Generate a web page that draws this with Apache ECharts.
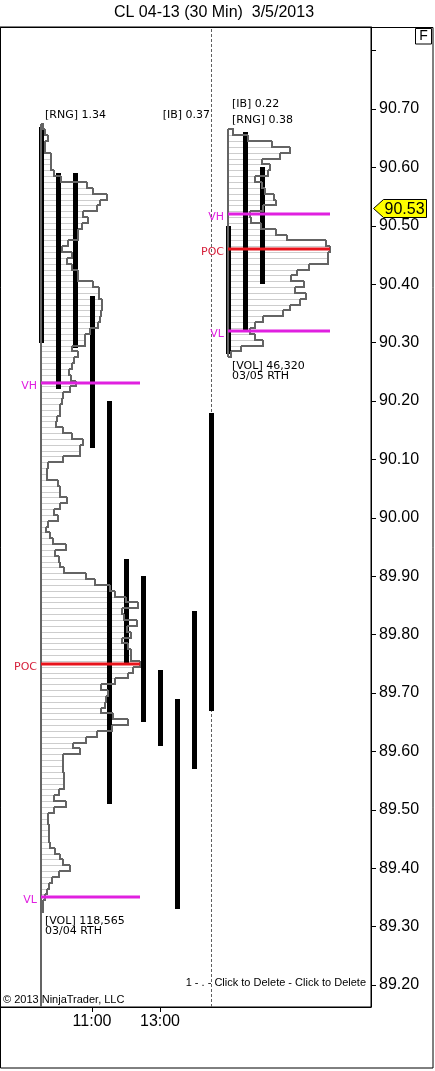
<!DOCTYPE html>
<html><head><meta charset="utf-8">
<script src="https://cdn.jsdelivr.net/npm/echarts@6/dist/echarts.min.js"></script>
<style>html,body{margin:0;padding:0;background:#fff}#c{width:435px;height:1071px}</style>
</head><body><div id="c"></div>
<script>
// ---------- data ----------
const TITLE = 'CL 04-13 (30 Min)  3/5/2013';
const BAR_SLOT = [0, 1, 2, 3, 4, 5, 6, 7, 8, 9, 10, 11, 12, 13];
const BAR_HIGH = [90.67, 90.59, 90.59, 90.38, 90.20, 89.93, 89.90, 89.74, 89.69, 89.84, 90.18, 90.50, 90.66, 90.60];
const BAR_LOW  = [90.30, 90.22, 90.29, 90.12, 89.51, 89.75, 89.65, 89.61, 89.33, 89.57, 89.67, 90.28, 90.32, 90.40];
const TICK_SLOTS = [3, 7];
const TICK_LABELS = ['11:00', '13:00'];
const Y_TICKS = [89.2, 89.3, 89.4, 89.5, 89.6, 89.7, 89.8, 89.9, 90.0, 90.1, 90.2, 90.3, 90.4, 90.5, 90.6, 90.7, 90.8];
const Y_LABELS = [89.2, 89.3, 89.4, 89.5, 89.6, 89.7, 89.8, 89.9, 90.0, 90.1, 90.2, 90.3, 90.4, 90.5, 90.6, 90.7];
const SESSION_BREAK_SLOT = 10;
const LAST_PRICE = 90.53;
const TICK = 0.01;

// profile 1 (03/04), rows from high downward, relative volume
const P1_START = 0;
const P1_HIGH = 90.67;
const P1_VOL = [
  2, 4, 7, 4, 4, 10, 10, 10,
  13, 20, 46, 52, 66, 59, 56, 42, 47, 41,
  37, 37, 27, 21, 31, 26, 31, 37, 37, 52,
  58, 58, 61, 61, 60, 59, 57, 49, 44, 44,
  31, 37, 33, 31, 28, 30, 35, 29, 22, 21,
  19, 19, 16, 15, 22, 31, 42, 39, 39, 22,
  7, 6, 6, 17, 19, 19, 26, 19, 13, 17,
  7, 5, 9, 12, 25, 14, 18, 19, 23, 45,
  54, 69, 74, 85, 97, 81, 83, 96, 86, 90,
  81, 87, 90, 90, 99, 92, 87, 74, 60, 67,
  65, 64, 60, 72, 87, 71, 56, 45, 32, 39,
  22, 22, 22, 23, 23, 23, 18, 13, 25, 13,
  7, 7, 8, 8, 8, 9, 14, 19, 22, 29,
  18, 11, 8, 6, 4, 2, 2
];
const P1_LEVELS = [90.23, 89.75, 89.35];      // VH, POC, VL
const P1_NOTES = ['[RNG] 1.34', '[IB] 0.37', '[VOL] 118,565', '03/04 RTH'];

// profile 2 (03/05)
const P2_START = 11;
const P2_HIGH = 90.66;
const P2_VOL = [
  5, 20, 44, 62, 52, 34, 42,
  40, 27, 34, 37, 46, 48, 35, 22, 23, 33,
  48, 59, 98, 102, 100, 100, 81, 69, 63, 76,
  67, 78, 72, 62, 55, 35, 27, 22, 27, 35,
  13, 3
];
const P2_LEVELS = [90.52, 90.46, 90.32];
const P2_NOTES = ['[IB] 0.22', '[RNG] 0.38', '[VOL] 46,320', '03/05 RTH'];

const LEVEL_NAMES = ['VH', 'POC', 'VL'];

// ---------- chart config ----------
const Y_MIN = 89.1623, Y_MAX = 90.8404;
const X_MIN = -41 / 17, X_MAX = 330 / 17;
const VOL_UNITS_PER_SLOT = 17;
const HALF = TICK / 2;
const GRAY_OUT = '#646464', GRAY_ROW = '#cdcdcd';
const MAGENTA = '#e020e0', RED = '#e8141c', RED_TXT = '#d61f3a';
const NOTE_FONT = '11px "DejaVu Sans"';

function buildRows(start, high, vols) {
  return vols.map((v, i) => [start, +(high - i * TICK).toFixed(2), v, i + 1 < vols.length ? vols[i + 1] : 0, i === 0 ? 1 : 0]);
}
const rows = buildRows(P1_START, P1_HIGH, P1_VOL).concat(buildRows(P2_START, P2_HIGH, P2_VOL));
const P1_LOW = +(P1_HIGH - (P1_VOL.length - 1) * TICK).toFixed(2);
const P2_LOW = +(P2_HIGH - (P2_VOL.length - 1) * TICK).toFixed(2);
const edges = [
  [P1_START, P1_HIGH + HALF, Y_MIN],
  [P2_START, P2_HIGH + HALF, P2_LOW - HALF]
];
const levels = [];
[[P1_START, P1_LEVELS, Math.max(...P1_VOL)], [P2_START, P2_LEVELS, Math.max(...P2_VOL)]].forEach(([s, lv, mx]) => {
  lv.forEach((p, k) => levels.push([s, p, mx, k]));
});
// notes: [slot, price, textIndex, dx, dy, alignRight]
const NOTES_ALL = P1_NOTES.concat(P2_NOTES);
const notes = [
  [P1_START, P1_HIGH, 0, 4, -12, 0],
  [SESSION_BREAK_SLOT, P1_HIGH, 1, -1, -12, 1],
  [P1_START, P1_LOW, 2, 4, 12, 0],
  [P1_START, P1_LOW, 3, 4, 22, 0],
  [P2_START, P2_HIGH, 4, 4, -28, 0],
  [P2_START, P2_HIGH, 5, 4, -12, 0],
  [P2_START, P2_LOW, 6, 4, 12, 0],
  [P2_START, P2_LOW, 7, 4, 22, 0]
];
const bars = BAR_SLOT.map((s, i) => [s, BAR_HIGH[i], BAR_LOW[i]]);

const chart = echarts.init(document.getElementById('c'), null, {renderer: 'canvas'});
const R = Math.round;

chart.setOption({
  animation: false,
  backgroundColor: '#fff',
  grid: {left: 0, right: 64, top: 27, bottom: 64, show: true, borderColor: '#000', borderWidth: 1, backgroundColor: 'transparent'},
  xAxis: {
    type: 'value', min: X_MIN, max: X_MAX,
    axisLine: {show: true, onZero: false, lineStyle: {color: '#000', width: 1}},
    axisTick: {show: true, customValues: TICK_SLOTS, length: 5, lineStyle: {color: '#000'}},
    axisLabel: {customValues: TICK_SLOTS, formatter: v => TICK_LABELS[TICK_SLOTS.indexOf(v)], color: '#000',
      fontFamily: 'Liberation Sans', fontSize: 16, margin: 7},
    splitLine: {show: false}
  },
  yAxis: {
    type: 'value', position: 'right', min: Y_MIN, max: Y_MAX,
    axisLine: {show: true, onZero: false, lineStyle: {color: '#000', width: 1}},
    axisTick: {show: true, customValues: Y_TICKS, length: 5, lineStyle: {color: '#000'}},
    axisLabel: {customValues: Y_LABELS, formatter: v => v.toFixed(2), color: '#000',
      fontFamily: 'Liberation Sans', fontSize: 16, margin: 8},
    splitLine: {show: false}
  },
  graphic: [
    {type: 'rect', shape: {x: 0.5, y: 27.5, width: 432.5, height: 1040.5}, style: {fill: 'none', stroke: '#000', lineWidth: 1}, z: 100},
    {type: 'rect', shape: {x: 415.5, y: 28.5, width: 16, height: 15.5}, style: {fill: '#fff', stroke: '#000', lineWidth: 1}, z: 100},
    {type: 'text', x: 423.5, y: 36.5, style: {text: 'F', font: '14px "Liberation Sans"', fill: '#000', align: 'center', verticalAlign: 'middle'}, z: 101},
    {type: 'text', x: 214, y: 13, style: {text: TITLE, font: '16px "Liberation Sans"', fill: '#000', align: 'center', verticalAlign: 'middle'}, z: 100},
    {type: 'text', x: 3, y: 1000, style: {text: '\u00a9 2013 NinjaTrader, LLC', font: '11px "Liberation Sans"', fill: '#000', verticalAlign: 'middle'}, z: 100},
    {type: 'text', x: 366, y: 983, style: {text: '1 - . - Click to Delete - Click to Delete', font: '11px "Liberation Sans"', fill: '#000', align: 'right', verticalAlign: 'middle'}, z: 100}
  ],
  series: [
    { // profile rows (+ session break line underneath the bars)
      type: 'custom', z: 1, data: rows, clip: false,
      renderItem: (params, api) => {
        const s = api.value(0), p = api.value(1), v = api.value(2);
        const a = api.coord([s, p + HALF]);
        const b = api.coord([s + v / VOL_UNITS_PER_SLOT, p - HALF]);
        return {type: 'rect', shape: {x: R(a[0]) + 0.5, y: R(a[1]) + 0.5, width: R(b[0]) - R(a[0]), height: R(b[1]) - R(a[1])},
          style: {fill: 'none', stroke: GRAY_ROW, lineWidth: 1}};
      },
      markLine: {
        z: 1, silent: true, symbol: ['none', 'none'], label: {show: false},
        lineStyle: {type: [3, 2], color: '#606060', width: 1},
        data: [{xAxis: SESSION_BREAK_SLOT}]
      }
    },
    { // bars
      type: 'custom', z: 3, data: bars, clip: false,
      renderItem: (params, api) => {
        const a = api.coord([api.value(0), api.value(1)]);
        const b = api.coord([api.value(0), api.value(2)]);
        return {type: 'rect', shape: {x: R(a[0]) - 2, y: R(a[1]), width: 5, height: R(b[1]) - R(a[1])}, style: {fill: '#000'}};
      }
    },
    { // profile outline
      type: 'custom', z: 4, data: rows, clip: false,
      renderItem: (params, api) => {
        const s = api.value(0), p = api.value(1), v = api.value(2), nv = api.value(3), first = api.value(4);
        const x0 = R(api.coord([s, p])[0]);
        const xv = R(api.coord([s + v / VOL_UNITS_PER_SLOT, p])[0]);
        const xn = R(api.coord([s + nv / VOL_UNITS_PER_SLOT, p])[0]);
        const yT = R(api.coord([s, p + HALF])[1]), yB = R(api.coord([s, p - HALF])[1]);
        const pts = first ? [[x0, yT], [xv, yT], [xv, yB], [xn, yB]] : [[xv, yT], [xv, yB], [xn, yB]];
        return {type: 'polyline', shape: {points: pts}, style: {stroke: GRAY_OUT, lineWidth: 2, fill: null}};
      }
    },
    { // profile left edges
      type: 'custom', z: 4, data: edges, clip: false,
      renderItem: (params, api) => {
        const a = api.coord([api.value(0), api.value(1)]);
        const b = api.coord([api.value(0), api.value(2)]);
        return {type: 'line', shape: {x1: R(a[0]), y1: R(a[1]), x2: R(b[0]), y2: R(b[1])}, style: {stroke: GRAY_OUT, lineWidth: 2}};
      }
    },
    { // value area levels
      type: 'custom', z: 6, data: levels, clip: false,
      renderItem: (params, api) => {
        const s = api.value(0), p = api.value(1), len = api.value(2), k = api.value(3);
        const a = api.coord([s, p]);
        const b = api.coord([s + len / VOL_UNITS_PER_SLOT, p]);
        const col = k === 1 ? RED : MAGENTA;
        return {type: 'group', children: [
          {type: 'line', shape: {x1: R(a[0]), y1: R(a[1]), x2: R(b[0]), y2: R(a[1])}, style: {stroke: col, lineWidth: 3}},
          {type: 'text', x: R(a[0]) - 4, y: R(a[1]) + 3, style: {text: LEVEL_NAMES[k], font: NOTE_FONT,
            fill: k === 1 ? RED_TXT : MAGENTA, align: 'right', verticalAlign: 'middle'}}
        ]};
      }
    },
    { // notes
      type: 'custom', z: 7, data: notes, clip: false,
      renderItem: (params, api) => {
        const a = api.coord([api.value(0), api.value(1)]);
        return {type: 'text', x: R(a[0]) + api.value(3), y: R(a[1]) + api.value(4),
          style: {text: NOTES_ALL[api.value(2)], font: NOTE_FONT, fill: '#000',
            align: api.value(5) ? 'right' : 'left', verticalAlign: 'middle'}};
      }
    },
    { // last price tag
      type: 'custom', z: 8, data: [[X_MAX, LAST_PRICE]], clip: false,
      renderItem: (params, api) => {
        const a = api.coord([api.value(0), api.value(1)]);
        const x = R(a[0]) + 0.5, y = R(a[1]) + 0.5;
        return {type: 'group', children: [
          {type: 'polygon', shape: {points: [[x + 2, y], [x + 12, y - 9], [x + 55, y - 9], [x + 55, y + 9], [x + 12, y + 9]]},
            style: {fill: '#ffff00', stroke: '#000', lineWidth: 1}},
          {type: 'text', x: x + 13, y: y + 1, style: {text: LAST_PRICE.toFixed(2), font: '16px "Liberation Sans"', fill: '#000', verticalAlign: 'middle'}}
        ]};
      }
    }
  ]
});
</script>
</body></html>
